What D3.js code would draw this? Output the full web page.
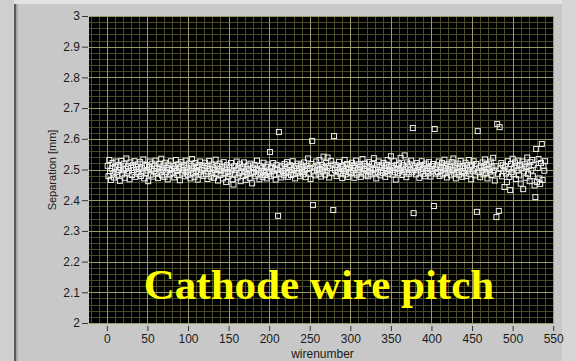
<!DOCTYPE html>
<html>
<head>
<meta charset="utf-8">
<script src="https://cdn.jsdelivr.net/npm/d3@7"></script>
<style>
  html, body { margin: 0; padding: 0; background: #c8c8c8; }
  svg { display: block; }
  .tick text { font-family: Arial, "Liberation Sans", sans-serif; font-size: 12px; fill: #1a1a1a; }
</style>
</head>
<body>
<div id="main"></div>
<script>
// separation per wire (wire numbers start at 1)
const separation = [
  2.512, 2.478, 2.531, 2.495, 2.466, 2.503, 2.521, 2.487, 2.474, 2.509, 2.526, 2.492, 2.481, 2.515, 2.499, 2.463, 2.507, 2.528, 2.484, 2.497,
  2.519, 2.473, 2.502, 2.536, 2.489, 2.511, 2.494, 2.468, 2.523, 2.505, 2.482, 2.514, 2.498, 2.527, 2.476, 2.509, 2.491, 2.517, 2.485, 2.501,
  2.524, 2.479, 2.506, 2.493, 2.533, 2.471, 2.512, 2.488, 2.515, 2.497, 2.462, 2.508, 2.526, 2.483, 2.501, 2.519, 2.477, 2.495, 2.511, 2.529,
  2.486, 2.504, 2.472, 2.518, 2.493, 2.507, 2.535, 2.481, 2.499, 2.513, 2.476, 2.522, 2.491, 2.505, 2.468, 2.516, 2.498, 2.484, 2.527, 2.502,
  2.489, 2.511, 2.474, 2.506, 2.531, 2.495, 2.482, 2.517, 2.503, 2.465, 2.509, 2.524, 2.487, 2.498, 2.514, 2.478, 2.529, 2.492, 2.506, 2.483,
  2.519, 2.497, 2.471, 2.512, 2.534, 2.488, 2.503, 2.476, 2.521, 2.495, 2.508, 2.467, 2.515, 2.491, 2.526, 2.484, 2.499, 2.513, 2.479, 2.505,
  2.522, 2.486, 2.511, 2.469, 2.494, 2.528, 2.502, 2.477, 2.516, 2.489, 2.507, 2.473, 2.498, 2.532, 2.485, 2.512, 2.464, 2.501, 2.519, 2.482,
  2.496, 2.509, 2.471, 2.524, 2.488, 2.503, 2.459, 2.514, 2.492, 2.478, 2.507, 2.486, 2.521, 2.497, 2.468, 2.451, 2.511, 2.483, 2.499, 2.526,
  2.474, 2.505, 2.488, 2.517, 2.462, 2.494, 2.509, 2.479, 2.523, 2.491, 2.466, 2.502, 2.485, 2.513, 2.497, 2.473, 2.519, 2.487, 2.455, 2.506,
  2.492, 2.515, 2.478, 2.501, 2.529, 2.484, 2.497, 2.468, 2.511, 2.489, 2.504, 2.476, 2.522, 2.495, 2.482, 2.508, 2.471, 2.516, 2.493, 2.487,
  2.557, 2.478, 2.509, 2.494, 2.521, 2.483, 2.502, 2.467, 2.515, 2.498, 2.349, 2.622, 2.486, 2.507, 2.474, 2.512, 2.495, 2.481, 2.518, 2.503,
  2.489, 2.524, 2.476, 2.508, 2.493, 2.514, 2.482, 2.499, 2.527, 2.485, 2.506, 2.471, 2.511, 2.496, 2.519, 2.488, 2.503, 2.478, 2.516, 2.492,
  2.509, 2.484, 2.523, 2.497, 2.475, 2.512, 2.501, 2.536, 2.487, 2.505, 2.469, 2.518, 2.593, 2.384, 2.494, 2.507, 2.481, 2.526, 2.499, 2.513,
  2.486, 2.531, 2.502, 2.477, 2.515, 2.494, 2.542, 2.508, 2.483, 2.521, 2.496, 2.539, 2.511, 2.474, 2.504, 2.528, 2.489, 2.516, 2.368, 2.609,
  2.498, 2.514, 2.479, 2.507, 2.491, 2.525, 2.503, 2.486, 2.512, 2.472, 2.509, 2.495, 2.531, 2.484, 2.501, 2.518, 2.476, 2.506, 2.492, 2.514,
  2.488, 2.522, 2.497, 2.511, 2.473, 2.505, 2.529, 2.483, 2.499, 2.517, 2.491, 2.508, 2.476, 2.513, 2.534, 2.487, 2.502, 2.519, 2.481, 2.496,
  2.511, 2.478, 2.524, 2.493, 2.506, 2.484, 2.518, 2.499, 2.537, 2.487, 2.503, 2.471, 2.515, 2.492, 2.526, 2.508, 2.481, 2.497, 2.513, 2.489,
  2.521, 2.504, 2.476, 2.516, 2.495, 2.531, 2.486, 2.509, 2.498, 2.543, 2.512, 2.483, 2.505, 2.527, 2.491, 2.467, 2.515, 2.502, 2.488, 2.519,
  2.496, 2.538, 2.507, 2.482, 2.514, 2.493, 2.546, 2.501, 2.475, 2.523, 2.509, 2.486, 2.517, 2.498, 2.529, 2.491, 2.635, 2.358, 2.504, 2.512,
  2.484, 2.521, 2.497, 2.508, 2.473, 2.515, 2.493, 2.527, 2.502, 2.486, 2.513, 2.478, 2.519, 2.495, 2.506, 2.488, 2.524, 2.501, 2.477, 2.511,
  2.496, 2.518, 2.381, 2.632, 2.503, 2.487, 2.514, 2.492, 2.526, 2.479, 2.508, 2.497, 2.521, 2.484, 2.505, 2.532, 2.489, 2.512, 2.474, 2.501,
  2.517, 2.493, 2.509, 2.481, 2.524, 2.498, 2.536, 2.486, 2.513, 2.471, 2.505, 2.492, 2.519, 2.483, 2.507, 2.528, 2.495, 2.476, 2.511, 2.488,
  2.503, 2.522, 2.479, 2.514, 2.497, 2.531, 2.486, 2.509, 2.468, 2.515, 2.494, 2.527, 2.502, 2.481, 2.518, 2.362, 2.625, 2.491, 2.506, 2.475,
  2.512, 2.496, 2.523, 2.484, 2.508, 2.533, 2.489, 2.515, 2.471, 2.502, 2.519, 2.493, 2.526, 2.482, 2.507, 2.538, 2.497, 2.464, 2.511, 2.345,
  2.648, 2.486, 2.365, 2.638, 2.503, 2.521, 2.478, 2.514, 2.495, 2.443, 2.509, 2.487, 2.459, 2.527, 2.501, 2.476, 2.433, 2.518, 2.492, 2.535,
  2.484, 2.506, 2.523, 2.469, 2.512, 2.497, 2.529, 2.481, 2.515, 2.454, 2.503, 2.526, 2.436, 2.494, 2.517, 2.473, 2.508, 2.539, 2.486, 2.511,
  2.462, 2.524, 2.497, 2.531, 2.478, 2.515, 2.448, 2.410, 2.567, 2.459, 2.505, 2.534, 2.471, 2.453, 2.521, 2.583, 2.466, 2.512, 2.496, 2.527
];
const xTicks = [0, 50, 100, 150, 200, 250, 300, 350, 400, 450, 500, 550];
const yTicks = [2, 2.1, 2.2, 2.3, 2.4, 2.5, 2.6, 2.7, 2.8, 2.9, 3];
const xLabel = 'wirenumber';
const yLabel = 'Separation [mm]';
const title = 'Cathode wire pitch';

const width = 575, height = 361;
const plot = { left: 89, right: 554, top: 16, bottom: 323 };

const svg = d3.select('#main').append('svg')
    .attr('width', width)
    .attr('height', height);

// panel frame
svg.append('rect').attr('x', 0).attr('y', 0).attr('width', width).attr('height', height).attr('fill', '#c8c8c8');
svg.append('rect').attr('x', 0).attr('y', 0).attr('width', 14).attr('height', height).attr('fill', '#cfcfcf');
svg.append('rect').attr('x', 14).attr('y', 0).attr('width', 2).attr('height', height).attr('fill', '#5a5a5a');
svg.append('rect').attr('x', 16).attr('y', 0).attr('width', 2).attr('height', height).attr('fill', '#a8a8a8');
svg.append('rect').attr('x', 14).attr('y', 0).attr('width', width - 14).attr('height', 4).attr('fill', '#e2e2e2');
svg.append('rect').attr('x', 562).attr('y', 0).attr('width', 13).attr('height', height).attr('fill', '#d6d6d6');

const x = d3.scaleLinear().domain([-22, 551]).range([plot.left, plot.right]);
const y = d3.scaleLinear().domain([2, 3]).range([plot.bottom, plot.top]);

svg.append('rect')
    .attr('x', plot.left).attr('y', plot.top)
    .attr('width', plot.right - plot.left).attr('height', plot.bottom - plot.top)
    .attr('fill', '#000');

// grid, minor then major
const grid = svg.append('g');
const minorX = d3.range(-20, 551, 10).filter(v => v % 50 !== 0);
const minorY = d3.range(2, 3.0001, 0.02).filter(v => Math.abs(v * 10 - Math.round(v * 10)) > 1e-6);
grid.selectAll('line.mx').data(minorX).enter().append('line')
    .attr('x1', d => Math.round(x(d)) + 0.5).attr('x2', d => Math.round(x(d)) + 0.5)
    .attr('y1', plot.top).attr('y2', plot.bottom)
    .attr('stroke', '#4a4b26').attr('stroke-width', 1);
grid.selectAll('line.my').data(minorY).enter().append('line')
    .attr('y1', d => Math.round(y(d)) + 0.5).attr('y2', d => Math.round(y(d)) + 0.5)
    .attr('x1', plot.left).attr('x2', plot.right)
    .attr('stroke', '#4a4b26').attr('stroke-width', 1);
grid.selectAll('line.Mx').data(xTicks).enter().append('line')
    .attr('x1', d => Math.round(x(d)) + 0.5).attr('x2', d => Math.round(x(d)) + 0.5)
    .attr('y1', plot.top).attr('y2', plot.bottom)
    .attr('stroke', '#9a9a66').attr('stroke-width', 1);
grid.selectAll('line.My').data(yTicks).enter().append('line')
    .attr('y1', d => Math.round(y(d)) + 0.5).attr('y2', d => Math.round(y(d)) + 0.5)
    .attr('x1', plot.left).attr('x2', plot.right)
    .attr('stroke', '#9a9a66').attr('stroke-width', 1);

// axes
const yAxis = svg.append('g')
    .attr('transform', `translate(${plot.left - 1},0)`)
    .call(d3.axisLeft(y).tickValues(yTicks).tickFormat(d3.format('~g')).tickSize(6).tickPadding(2));
const xAxis = svg.append('g')
    .attr('transform', `translate(0,${plot.bottom + 3})`)
    .call(d3.axisBottom(x).tickValues(xTicks).tickSize(5).tickPadding(3));
[xAxis, yAxis].forEach(a => {
  a.select('.domain').remove();
  a.selectAll('.tick line').attr('stroke', '#333');
});

// markers
svg.append('g').selectAll('rect')
    .data(separation)
    .enter().append('rect')
    .attr('x', (d, i) => x(i + 1) - 2.5)
    .attr('y', d => y(d) - 2.5)
    .attr('width', 5).attr('height', 5)
    .attr('fill', 'none')
    .attr('stroke', '#f0f0f0')
    .attr('stroke-width', 1);

// labels
svg.append('text')
    .attr('x', (plot.left + plot.right) / 2 + 1)
    .attr('y', 358)
    .attr('text-anchor', 'middle')
    .attr('font-family', 'Arial, "Liberation Sans", sans-serif')
    .attr('font-size', 12)
    .attr('fill', '#1a1a1a')
    .text(xLabel);

svg.append('text')
    .attr('transform', 'translate(56,170) rotate(-90)')
    .attr('text-anchor', 'middle')
    .attr('font-family', 'Arial, "Liberation Sans", sans-serif')
    .attr('font-size', 11)
    .attr('fill', '#1a1a1a')
    .text(yLabel);

svg.append('text')
    .attr('x', 319)
    .attr('y', 299)
    .attr('text-anchor', 'middle')
    .attr('font-family', '"Liberation Serif", "Times New Roman", serif')
    .attr('font-weight', 'bold')
    .attr('font-size', 43)
    .attr('fill', '#ffff00')
    .text(title);
</script>
</body>
</html>
